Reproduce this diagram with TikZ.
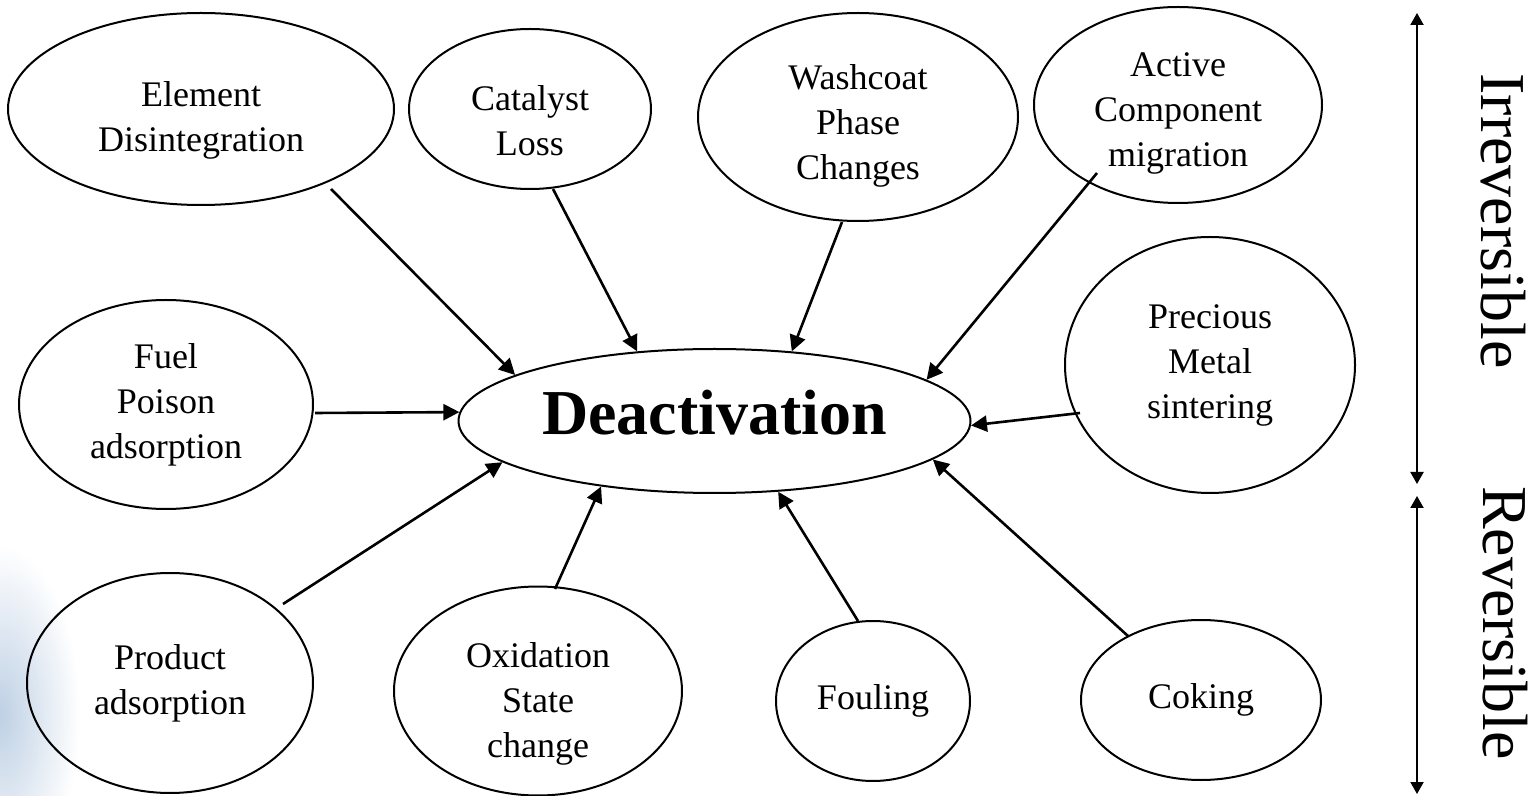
\documentclass[tikz,border=0pt]{standalone}
\usepackage{fontspec}
\setmainfont{Liberation Serif}
\usetikzlibrary{arrows.meta,calc,shapes.geometric}
\definecolor{hazeblue}{RGB}{190,208,228}
% invisible strut on a first line that lowers a centred text block
\newcommand\textdrop[1]{\rule{0pt}{#1}}

\begin{document}
\begin{tikzpicture}[x=0.5pt,y=-0.5pt,
  cause/.style={draw, line width=1pt, ellipse, inner sep=0pt, align=center,
    font=\fontsize{18}{22.5}\selectfont},
  core/.style={draw, line width=1pt, ellipse, inner sep=0pt,
    font=\fontsize{32}{38}\bfseries\selectfont, text depth=8.8pt},
  link/.style={line width=1.3pt, -{Triangle[length=8pt,width=8pt]}},
  span/.style={line width=1pt, {Triangle[length=6pt,width=6.5pt]}-{Triangle[length=6pt,width=6.5pt]}},
  sidelabel/.style={rotate=-90, inner sep=0pt, font=\fontsize{32}{38}\selectfont}]

\useasboundingbox (0,0) rectangle (1532,796);

% faint slide background in the lower left corner
\begin{scope}
  \clip (0,0) rectangle (1532,796);
  \shade[inner color=hazeblue, outer color=white] (0,715) ellipse [x radius=40pt, y radius=85pt];
\end{scope}

% central node
\node[core, minimum width=256pt, minimum height=72pt] (deact) at (714.5,421) {Deactivation};

% causes
\node[cause, minimum width=193pt, minimum height=96pt]   (elem) at (201,109)   {\textdrop{24pt}Element\\Disintegration};
\node[cause, minimum width=121pt, minimum height=80pt]   (cat)  at (530,109)   {\textdrop{24pt}Catalyst\\Loss};
\node[cause, minimum width=160pt, minimum height=104pt]  (wash) at (858,117)   {\textdrop{21pt}Washcoat\\Phase\\Changes};
\node[cause, minimum width=144pt, minimum height=98pt]   (act)  at (1178,105)  {\textdrop{20pt}Active\\Component\\migration};
\node[cause, minimum width=145pt, minimum height=128pt]  (prec) at (1210,365)  {Precious\\Metal\\sintering};
\node[cause, minimum width=147pt, minimum height=104.5pt] (fuel) at (166,404.5) {Fuel\\Poison\\adsorption};
\node[cause, minimum width=143pt, minimum height=110pt]  (prod) at (170,683)   {Product\\adsorption};
\node[cause, minimum width=144pt, minimum height=103pt]  (oxid) at (538,691)   {\textdrop{25pt}Oxidation\\State\\change};
\node[cause, minimum width=97pt,  minimum height=80pt]   (foul) at (873,701)   {Fouling};
\node[cause, minimum width=120pt, minimum height=80pt]   (cok)  at (1201,700)  {Coking};

% connectors into the central node
\draw[link] ($(elem)+(130,80)$)   -- (deact.167.8);
\draw[link] ($(cat)+(23,80)$)     -- (deact.138.5);
\draw[link] ($(wash)+(-16,105)$)  -- (deact.42.2);
\draw[link] ($(act)+(-81,68)$)    -- (deact.11.5);
\draw[link] ($(prec)+(-130,48)$)  -- (deact.-1.6);
\draw[link] ($(fuel)+(149,8.5)$)  -- (deact.178.2);
\draw[link] ($(prod)+(113,-79)$)  -- (deact.-169.5);
\draw[link] ($(oxid)+(17,-102)$)  -- (deact.-150.4);
\draw[link] ($(foul)+(-15,-80)$)  -- (deact.-48.5);
\draw[link] ($(cok)+(-73,-64)$)   -- (deact.-10.1);

% reversibility scale on the right
\coordinate (irrTop) at (1417,13);
\coordinate (irrBot) at (1417,484);
\coordinate (revTop) at (1417,496);
\coordinate (revBot) at (1417,794);
\draw[span] (irrTop) -- (irrBot);
\draw[span] (revTop) -- (revBot);
\node[sidelabel] (irr) at (1503,221) {Irreversible};
\node[sidelabel] (rev) at (1505,623) {Reversible};

\end{tikzpicture}
\end{document}
